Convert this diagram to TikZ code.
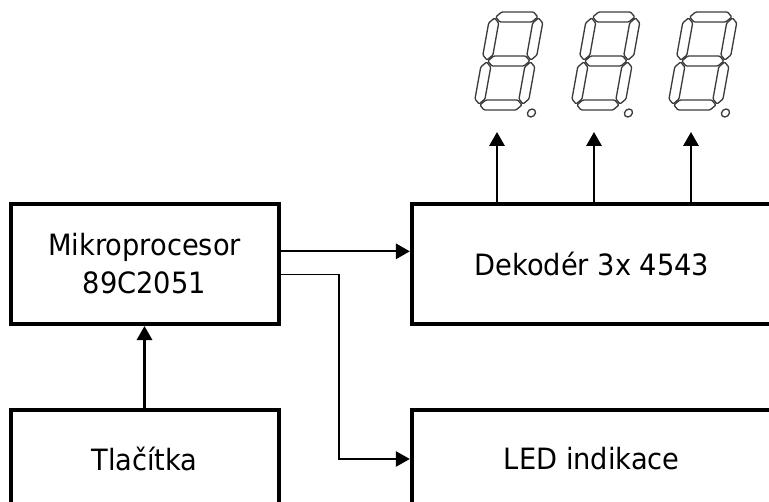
\documentclass[tikz,border=0pt]{standalone}
\usepackage{fontspec}
\setmainfont{DejaVu Sans}[FakeStretch=0.93]
\usepackage{tikz}
\usetikzlibrary{arrows.meta,positioning}
\definecolor{barvasegment}{RGB}{60,60,60}

\begin{document}
\begin{tikzpicture}[
  x=0.75pt, y=0.75pt,
  node distance=61.5pt and 97pt,
  blok/.style={rectangle, draw, line width=3pt, minimum width=201pt,
               minimum height=90pt, align=center,
               font=\fontsize{22}{28.5}\selectfont},
  sipka/.style={-{Triangle[length=10.5pt,width=11.5pt]}, line width=1.6pt},
  segment/.style={draw=barvasegment, line width=1pt, rounded corners=0.8pt},
  cifra/.pic={
    \foreach \y in {5,49,93}
      \draw[segment] (6,\y) -- ++(5,5) -- ++(32,0) -- ++(5,-5) -- ++(-5,-5) -- ++(-32,0) -- cycle;
    \foreach \x/\y in {5/6,5/50,49/6,49/50}
      \draw[segment] (\x,\y) -- ++(-5,5) -- ++(0,32) -- ++(5,5) -- ++(5,-5) -- ++(0,-32) -- cycle;
    \draw[segment] (59,-3) circle (3pt);
  }
]
  \useasboundingbox (0,0) rectangle (769,501);

  \node[blok] (mikro) at (144.5,237) {Mikroprocesor\\89C2051};
  \node[blok, minimum width=270pt, right=of mikro] (dek) {Dekodér 3x 4543};
  \node[blok, minimum height=73.5pt, below=of mikro] (tlac) {Tlačítka};
  \node[blok, minimum width=270pt, minimum height=73.5pt, below=of dek] (led) {LED indikace};

  % trojice sedmisegmentovek
  \foreach \i/\px in {1/473,2/570,3/667} {
    \pic[shift={(\px,391)}, xslant=0.18] {cifra};
    \coordinate (cifra\i) at (\px+24,369);
  }

  \coordinate (m1) at ([yshift=9.5pt]mikro.east);
  \coordinate (m2) at ([yshift=-7.9pt]mikro.east);

  \draw[sipka] (m1) -- (m1 -| dek.west);
  \draw[sipka, line width=1.1pt] (m2) -- ++(58.5,0) |- (led.west);
  \draw[sipka] (tlac) -- (mikro);
  \foreach \i in {1,2,3}
    \draw[sipka] (dek.north -| cifra\i) -- (cifra\i);
\end{tikzpicture}
\end{document}
